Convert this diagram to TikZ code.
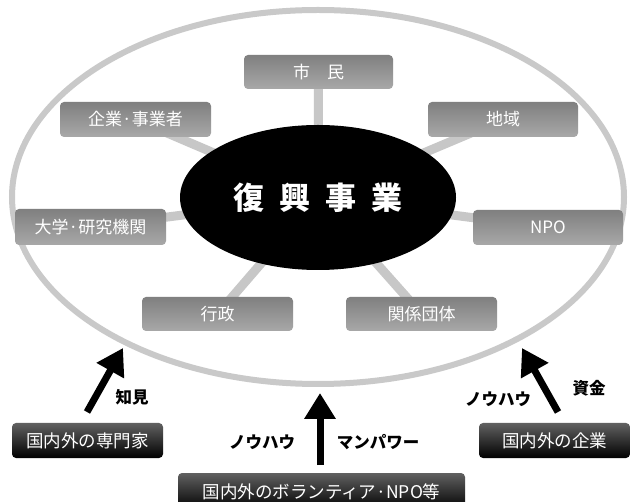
\documentclass[tikz,border=0pt]{standalone}
\usepackage{fontspec}
\setmainfont{Noto Sans CJK JP}
\usetikzlibrary{arrows.meta,shapes.geometric,backgrounds,shadings}
\tikzset{
  graybox/.style={rounded corners=4pt, top color=black!50, bottom color=black!34,
    text=white, font=\fontsize{17}{18}\selectfont, minimum width=150pt,
    minimum height=35pt, inner sep=0pt},
  blackbox/.style={rounded corners=4pt, top color=black!62, bottom color=black,
    text=white, font=\fontsize{17.5}{19}\selectfont, minimum height=35pt, inner sep=0pt},
  spoke/.style={line width=9pt, draw=black!22},
  bigarrow/.style={line width=7pt, -{Triangle[width=30pt,length=26pt]}},
  lbl/.style={font=\bfseries\fontsize{16.5}{18}\selectfont, inner sep=0pt}
}
\begin{document}
\begin{tikzpicture}[x=1pt,y=-1pt]
\useasboundingbox (0,0) rectangle (632,502);

% centre
\node[ellipse, fill=black, minimum width=276pt, minimum height=145pt, inner sep=0pt,
  text=white, font=\bfseries\fontsize{31}{33}\selectfont] (fukko) at (318,197.5)
  {復\hspace{15pt}興\hspace{15pt}事\hspace{15pt}業};

% members
\node[graybox, minimum width=149pt, minimum height=34pt] (shimin) at (318.5,72) {市\hspace{1em}民};
\node[graybox, minimum width=151pt] (kigyo) at (135.5,119.5) {企業·事業者};
\node[graybox] (chiiki) at (503,119.5) {地域};
\node[graybox, minimum width=151pt, minimum height=36pt] (daigaku) at (90.5,227) {大学·研究機関};
\node[graybox] (npo) at (548,227.5) {NPO};
\node[graybox, minimum width=151pt, minimum height=34pt] (gyosei) at (217.5,314) {行政};
\node[graybox, minimum width=151pt, minimum height=34pt] (kankei) at (421.5,314) {関係団体};

% outside actors
\node[blackbox, minimum width=151pt] (senmon) at (87.5,440.5) {国内外の専門家};
\node[blackbox, minimum width=151pt] (kigyo2) at (554.5,440.5) {国内外の企業};
\node[blackbox, minimum width=287pt, minimum height=37pt] (vol) at (321.5,491.5)
  {国内外のボランティア·NPO等};

\begin{scope}[on background layer]
  \fill[white] (0,0) rectangle (632,502);
  \node[ellipse, draw=black!21, line width=6pt, minimum width=612pt, minimum height=374pt,
    inner sep=0pt] (field) at (318,197) {};
  \foreach \b in {shimin,kigyo,chiiki,daigaku,npo,gyosei,kankei}
    \draw[spoke] (fukko.center) -- (\b.center);
\end{scope}

% arrows
\coordinate (a1s) at (87,412);
\coordinate (a1e) at (123,348);
\coordinate (a2s) at (320,465);
\coordinate (a2e) at (320,393);
\coordinate (a3s) at (558,412);
\coordinate (a3e) at (522,348);
\draw[bigarrow] (a1s) -- (a1e);
\draw[bigarrow] (a2s) -- (a2e);
\draw[bigarrow] (a3s) -- (a3e);

% labels
\node[lbl] (l1) at (132,397) {知見};
\node[lbl] (l2) at (262,442) {ノウハウ};
\node[lbl] (l3) at (378,442) {マンパワー};
\node[lbl] (l4) at (498,399) {ノウハウ};
\node[lbl] (l5) at (589,388) {資金};
\end{tikzpicture}
\end{document}
